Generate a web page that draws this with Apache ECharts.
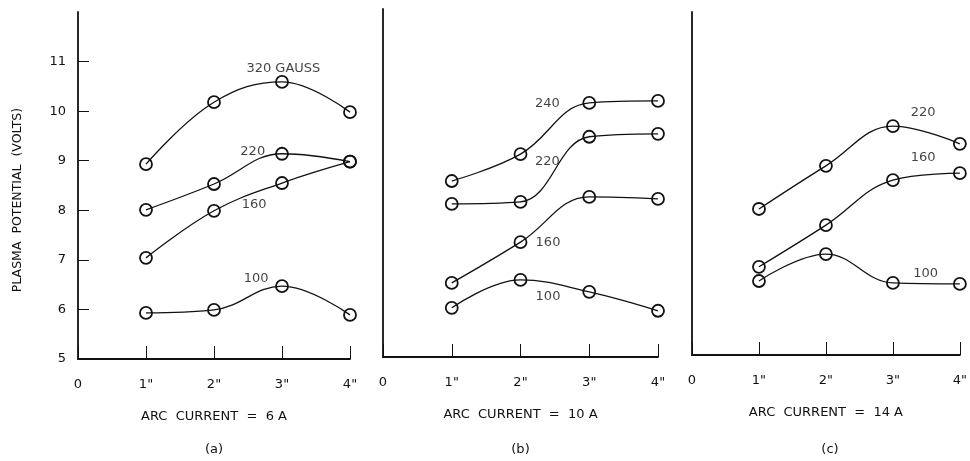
<!DOCTYPE html>
<html>
<head>
<meta charset="utf-8">
<script src="https://cdn.jsdelivr.net/npm/echarts@6/dist/echarts.min.js"></script>
<style>
  html, body { margin: 0; padding: 0; background: #fff; }
  #chart { width: 970px; height: 461px; }
</style>
</head>
<body>
<div id="chart"></div>
<script>
// probe positions (inches)
const positions = [1, 2, 3, 4];
const yTicks = [5, 6, 7, 8, 9, 10, 11];

// (a) arc current = 6 A
const a320 = [8.93, 10.18, 10.59, 9.98];
const a220 = [8.01, 8.53, 9.14, 8.98];
const a160 = [7.04, 7.99, 8.55, 8.98];
const a100 = [5.93, 5.99, 6.47, 5.89];

// (b) arc current = 10 A
const b240 = [8.54, 9.08, 10.11, 10.15];
const b220 = [8.08, 8.12, 9.43, 9.49];
const b160 = [6.49, 7.31, 8.22, 8.18];
const b100 = [5.99, 6.55, 6.31, 5.93];

// (c) arc current = 14 A
const c220 = [7.98, 8.86, 9.67, 9.31];
const c160 = [6.80, 7.65, 8.57, 8.71];
const c100 = [6.51, 7.06, 6.47, 6.45];

const panelNames = ['ARC  CURRENT  =  6 A', 'ARC  CURRENT  =  10 A', 'ARC  CURRENT  =  14 A'];
const panelTags = ['(a)', '(b)', '(c)'];
const yTitle = 'PLASMA  POTENTIAL  (VOLTS)';

// curve labels: [panel, text, x, y] in data units
const curveLabels = [
  [0, '320 GAUSS', 3.02, 10.85],
  [0, '220', 2.57, 9.18],
  [0, '160', 2.59, 8.11],
  [0, '100', 2.62, 6.63],
  [1, '240', 2.39, 10.09],
  [1, '220', 2.39, 8.94],
  [1, '160', 2.40, 7.31],
  [1, '100', 2.40, 6.21],
  [2, '220', 3.45, 9.94],
  [2, '160', 3.45, 9.02],
  [2, '100', 3.49, 6.67]
];

const FONT = 'DejaVu Sans';
const ink = '#111';

const grids = [
  { left: 78, top: 12, width: 272, height: 347 },
  { left: 383, top: 9, width: 275, height: 348 },
  { left: 692, top: 12, width: 276, height: 343 }
];

const xAxes = grids.map((g, i) => ({
  type: 'value', gridIndex: i, min: 0, max: 4, interval: 1,
  name: panelNames[i], nameLocation: 'middle', nameGap: 51,
  nameTextStyle: { color: ink, fontFamily: FONT, fontSize: 13 },
  axisLine: { show: true, onZero: false, lineStyle: { color: ink, width: 1.8 } },
  axisTick: { show: true, inside: true, length: 13, lineStyle: { color: ink, width: 1 } },
  axisLabel: {
    margin: 19, color: ink, fontFamily: FONT, fontSize: 13,
    formatter: v => v === 0 ? '0' : v + '"'
  },
  splitLine: { show: false }
}));

const yAxes = grids.map((g, i) => ({
  type: 'value', gridIndex: i, min: 5, max: 12, interval: 1,
  axisLine: { show: true, onZero: false, lineStyle: { color: ink, width: 1.8 } },
  axisTick: i === 0
    ? { show: true, inside: true, length: 11, customValues: [6, 7, 8, 9, 10, 11], lineStyle: { color: ink, width: 1 } }
    : { show: false },
  axisLabel: i === 0
    ? { show: true, margin: 12, color: ink, fontFamily: FONT, fontSize: 13, customValues: yTicks }
    : { show: false },
  splitLine: { show: false }
}));

function curve(panel, values) {
  return {
    type: 'line', xAxisIndex: panel, yAxisIndex: panel,
    data: positions.map((p, k) => [p, values[k]]),
    smooth: 0.4, clip: false,
    symbol: 'circle', symbolSize: 12,
    lineStyle: { color: ink, width: 1.3 },
    itemStyle: { color: 'rgba(0,0,0,0)', borderColor: ink, borderWidth: 1.8 },
    emphasis: { disabled: true }
  };
}

const series = [
  curve(0, a320), curve(0, a220), curve(0, a160), curve(0, a100),
  curve(1, b240), curve(1, b220), curve(1, b160), curve(1, b100),
  curve(2, c220), curve(2, c160), curve(2, c100)
];

// annotation text as a scatter of invisible points per panel
[0, 1, 2].forEach(p => {
  series.push({
    type: 'scatter', xAxisIndex: p, yAxisIndex: p,
    symbolSize: 0, silent: true, clip: false,
    data: curveLabels.filter(l => l[0] === p).map(l => ({ value: [l[2], l[3]], name: l[1] })),
    label: {
      show: true, position: 'inside', formatter: d => d.name,
      color: ink, fontFamily: FONT, fontSize: 13
    }
  });
});

const graphics = grids.map((g, i) => ({
  type: 'text',
  x: g.left + g.width / 2, y: 450,
  style: {
    text: panelTags[i], fill: ink, font: '13px "' + FONT + '"',
    align: 'center', verticalAlign: 'middle'
  }
}));
graphics.push({
  type: 'text', x: 18, y: 200, rotation: Math.PI / 2,
  style: {
    text: yTitle, fill: ink, font: '12.5px "' + FONT + '"',
    align: 'center', verticalAlign: 'middle'
  }
});

const chart = echarts.init(document.getElementById('chart'), null, { renderer: 'canvas' });
chart.setOption({
  animation: false,
  backgroundColor: '#fff',
  grid: grids,
  xAxis: xAxes,
  yAxis: yAxes,
  series: series,
  graphic: graphics
});
</script>
</body>
</html>
